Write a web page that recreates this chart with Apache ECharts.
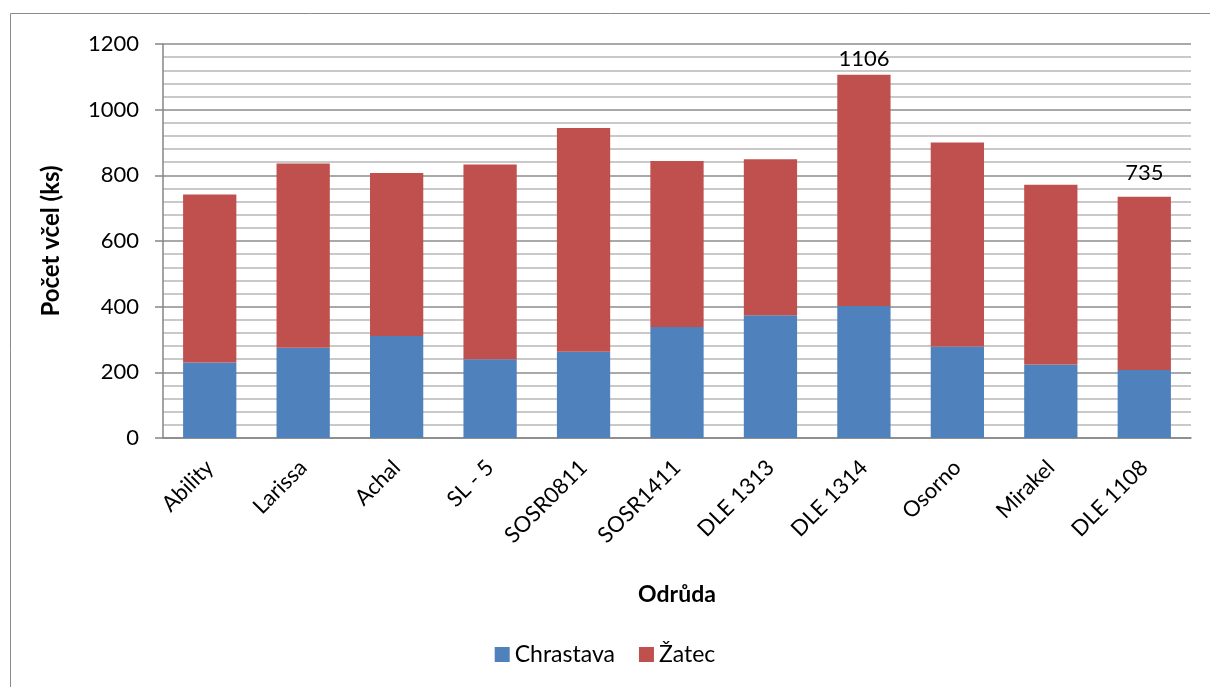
<!DOCTYPE html>
<html>
<head>
<meta charset="utf-8">
<script src="https://cdn.jsdelivr.net/npm/echarts@6/dist/echarts.min.js"></script>
<style>
  html, body { margin: 0; padding: 0; background: #fff; }
  #chart { width: 1210px; height: 687px; }
</style>
</head>
<body>
<div id="chart"></div>
<script>
// data
const odrudy = ['Ability', 'Larissa', 'Achal', 'SL - 5', 'SOSR0811', 'SOSR1411', 'DLE 1313', 'DLE 1314', 'Osorno', 'Mirakel', 'DLE 1108'];
const chrastava = [230, 275, 311, 240, 263, 338, 374, 402, 279, 224, 207];
const zatec = [512, 561, 496, 593, 681, 506, 475, 704, 621, 547, 528];
const yTicks = [0, 200, 400, 600, 800, 1000, 1200];
// which bars get the total written above them, and how far up
const labelled = { 7: 5, 10: 13 };

const font = 'Lato, "Open Sans", sans-serif';

const myChart = echarts.init(document.getElementById('chart'));

const zatecData = zatec.map((v, i) => {
  if (labelled[i] === undefined) return v;
  const total = v + chrastava[i];
  return {
    value: v,
    label: {
      show: true,
      position: 'top',
      distance: labelled[i],
      formatter: String(total),
      color: '#000',
      fontSize: 22,
      fontFamily: font
    }
  };
});

myChart.setOption({
  animation: false,
  textStyle: { fontFamily: font },
  graphic: [{
    type: 'rect',
    shape: { x: 10.5, y: 13.5, width: 1220, height: 700 },
    style: { fill: 'none', stroke: '#8a8a8a', lineWidth: 1 },
    silent: true
  }],
  grid: { left: 163, right: 19, top: 44, bottom: 249, containLabel: false },
  legend: {
    bottom: 16,
    left: 'center',
    itemWidth: 15,
    itemHeight: 15,
    itemGap: 24,
    icon: 'rect',
    textStyle: { fontSize: 23, color: '#000', fontFamily: font },
    data: ['Chrastava', 'Žatec']
  },
  xAxis: {
    type: 'category',
    data: odrudy,
    name: 'Odrůda',
    nameLocation: 'middle',
    nameGap: 145,
    nameTextStyle: { fontSize: 23, fontWeight: 'bold', color: '#000' },
    axisLine: { lineStyle: { color: '#868686', width: 1.5 } },
    axisTick: { show: false },
    axisLabel: { rotate: 45, fontSize: 22, color: '#000', margin: 26, interval: 0 }
  },
  yAxis: {
    type: 'value',
    min: yTicks[0],
    max: yTicks[yTicks.length - 1],
    interval: 200,
    name: 'Počet včel (ks)',
    nameLocation: 'middle',
    nameGap: 100,
    nameTextStyle: { fontSize: 24, fontWeight: 'bold', color: '#000' },
    axisLine: { show: true, lineStyle: { color: '#868686', width: 1.5 } },
    axisTick: { show: true, length: 8, lineStyle: { color: '#868686', width: 1.5 } },
    axisLabel: { fontSize: 22, color: '#000', margin: 24, formatter: v => String(v) },
    splitLine: { show: true, lineStyle: { color: '#8c8c8c', width: 1.5 } },
    minorTick: { show: false, splitNumber: 5 },
    minorSplitLine: { show: true, lineStyle: { color: '#b8b8b8', width: 1.5 } }
  },
  series: [
    {
      name: 'Chrastava',
      type: 'bar',
      stack: 'total',
      data: chrastava,
      barCategoryGap: '43%',
      itemStyle: { color: '#4F81BD' }
    },
    {
      name: 'Žatec',
      type: 'bar',
      stack: 'total',
      data: zatecData,
      barCategoryGap: '43%',
      itemStyle: { color: '#C0504D' }
    }
  ]
});
</script>
</body>
</html>
